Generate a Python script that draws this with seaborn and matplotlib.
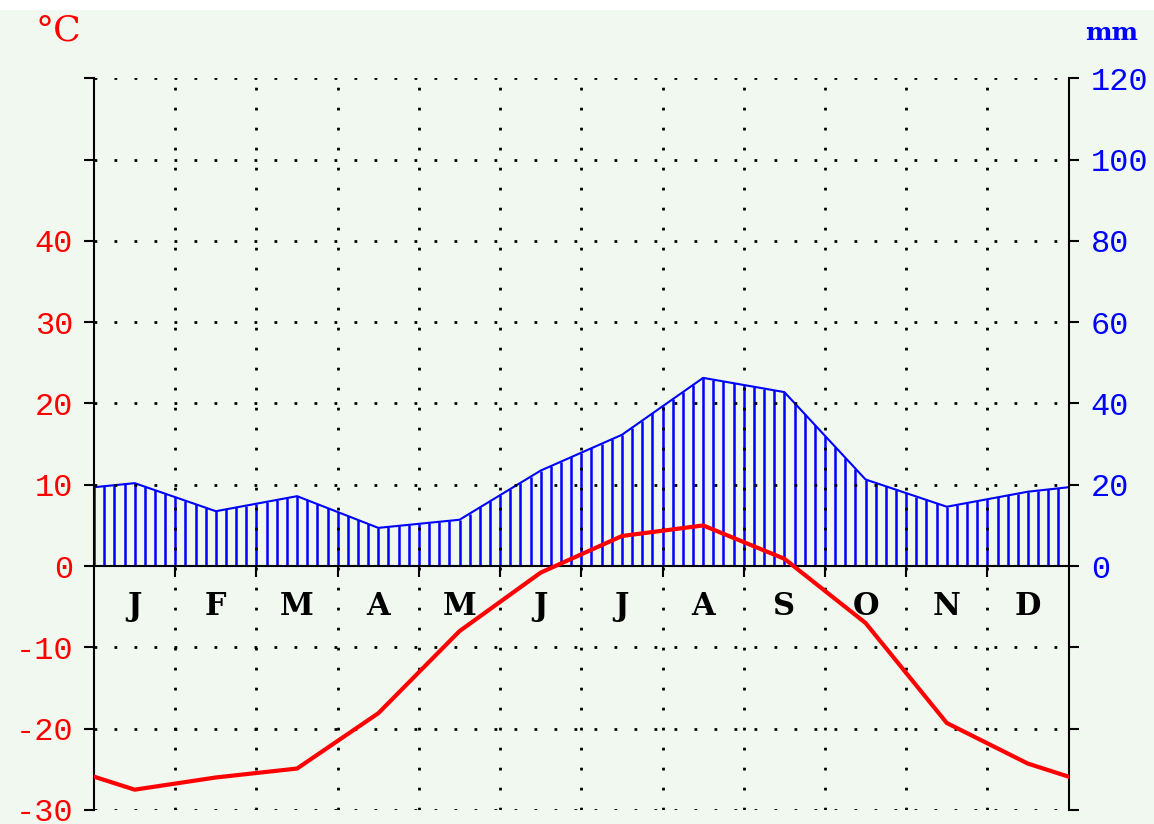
import numpy as np
import pandas as pd
import seaborn as sns
import matplotlib.pyplot as plt

# climate diagram data
months = ['J', 'F', 'M', 'A', 'M', 'J', 'J', 'A', 'S', 'O', 'N', 'D']
temp = [-27.5, -26.0, -24.9, -18.1, -8.0, -0.8, 3.7, 5.0, 0.9, -7.0, -19.3, -24.3]   # °C
precip = [20.4, 13.5, 17.2, 9.4, 11.4, 23.5, 32.3, 46.3, 42.8, 21.3, 14.6, 18.3]      # mm
temp_edge = -25.9     # value at the Dec/Jan border (both plot edges)
precip_edge = 19.4

temp_ticks = [-30, -20, -10, 0, 10, 20, 30, 40, 50, 60]
temp_labels = ['-30', '-20', '-10', '0', '10', '20', '30', '40', '', '']
precip_ticks = [-60, -40, -20, 0, 20, 40, 60, 80, 100, 120]
precip_labels = ['', '', '', '0', '20', '40', '60', '80', '100', '120']

bg = '#f0f8f0'
red = '#ff0000'
blue = '#0000ff'
mono = 'Liberation Mono'
serif = 'DejaVu Serif'

plt.rcParams['font.family'] = [mono, 'DejaVu Sans']

xc = np.arange(12) + 0.5
df = pd.DataFrame({
    'x': np.r_[0, xc, 12],
    'temp': np.r_[temp_edge, temp, temp_edge],
    'precip': np.r_[precip_edge, precip, precip_edge],
})

fig = plt.figure(figsize=(11.54, 8.24), dpi=100, facecolor=bg)
fig.patches.append(plt.Rectangle((0, 1 - 9 / 824), 1, 9 / 824, transform=fig.transFigure,
                                 color='white', zorder=0))

ax = fig.add_axes([0.0815, 0.017, 0.8445, 0.888])
ax2 = ax.twinx()
# temperature axes on top of the precipitation axes
ax.set_zorder(ax2.get_zorder() + 1)
ax.patch.set_visible(False)
ax2.set_facecolor(bg)

# precipitation: vertical hatching + outline
hx = np.arange(0, 12.001, 1 / 8)
ax2.vlines(hx, 0, np.interp(hx, df['x'], df['precip']), color=blue, lw=1.8)
sns.lineplot(data=df, x='x', y='precip', ax=ax2, color=blue, lw=1.5)

# dotted grid
dots = (0, (1, 6.2))
for y in temp_ticks:
    if y != 0:
        ax.axhline(y, color='black', lw=2.0, ls=dots, zorder=1)
for xb in range(1, 12):
    ax.axvline(xb, color='black', lw=2.0, ls=dots, zorder=1)

ax.axhline(0, color='black', lw=1.5, zorder=3)
ax.vlines(range(1, 12), -1.4, 0, color='black', lw=1.5, zorder=3)

# temperature line
sns.lineplot(data=df, x='x', y='temp', ax=ax, color=red, lw=3, zorder=5)

for i, m in enumerate(months):
    ax.text(xc[i], -5, m, ha='center', va='center', fontsize=22, family=serif,
            fontweight='bold', color='black')

ax.set_xlim(0, 12)
ax.set_ylim(-30, 60)
ax2.set_ylim(-60, 120)
ax.set_xticks([])
ax.set_yticks(temp_ticks, temp_labels)
ax2.set_yticks(precip_ticks, precip_labels)
ax.tick_params(axis='y', direction='out', length=7, width=1.5, color='black',
               labelcolor=red, labelsize=23, pad=8)
ax2.tick_params(axis='y', direction='out', length=7, width=1.5, color='black',
                labelcolor=blue, labelsize=23, pad=9)
for a in (ax, ax2):
    a.set_xlabel('')
    a.set_ylabel('')
    for s in a.spines.values():
        s.set_visible(False)
ax.spines['left'].set_visible(True)
ax.spines['left'].set_linewidth(1.5)
ax2.spines['right'].set_visible(True)
ax2.spines['right'].set_linewidth(1.5)

fig.text(0.031, 0.963, '°C', color=red, fontsize=26, family=serif, va='center')
fig.text(0.94, 0.96, 'mm', color=blue, fontsize=18, family=serif, fontweight='bold',
         va='center')

fig.savefig('out.png', dpi=100, facecolor=bg)
